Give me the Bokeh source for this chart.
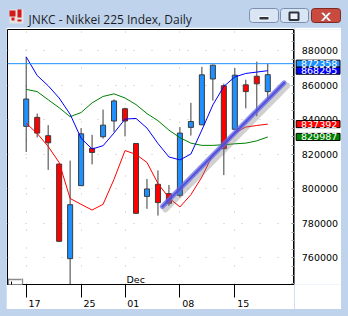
from bokeh.plotting import figure
from bokeh.layouts import column, row
from bokeh.models import (Range1d, FixedTicker, Span, Label, LinearAxis, ColumnDataSource,
                          BoxAnnotation, Grid)
from bokeh.embed import file_html
from bokeh.resources import INLINE
from bokeh.core.properties import value

# ---------------- data ----------------
title_text = "JNKC - Nikkei 225 Index, Daily"
days = ["17", "18", "19", "20", "21", "25", "26", "27", "28", "01", "02", "03",
        "04", "05", "08", "09", "10", "11", "12", "15", "16", "17", "18"]
opens = [836100, 841300, 830700, 814300, 759600, 801800, 823400, 830100, 839200, 846300, 826200, 795600,
         802600, 797200, 796200, 835500, 837000, 863500, 859600, 834400, 860100, 865100, 856200]
highs = [876300, 843500, 836800, 814600, 816300, 835100, 831200, 845800, 851700, 846900, 826400, 805700,
         810600, 802200, 835700, 849700, 870500, 871800, 860800, 869800, 863100, 873500, 872400]
lows = [821300, 829700, 810900, 769400, 743000, 801600, 814100, 829000, 832900, 830300, 785600, 788400,
        784500, 790100, 795100, 830800, 836800, 851000, 807900, 834200, 846500, 842000, 852500]
closes = [851900, 832200, 826600, 769600, 790800, 831800, 821000, 836800, 850800, 839200, 785800, 799900,
          792000, 791600, 832200, 838900, 865900, 871500, 823200, 865700, 856200, 860700, 866000]
ma_blue = [876300, 865500, 859600, 852500, 843100, 829200, 823000, 824900, 832300, 840300, 840700, 835100,
           826200, 818400, 816700, 820100, 834000, 848500, 859200, 864700, 866700, 867500, 868295]
ma_green = [857500, 856200, 851500, 846900, 841700, 844100, 849700, 853400, 854900, 852500, 848700, 843500,
            839400, 833900, 829600, 826400, 825100, 825100, 825500, 826000, 826400, 827700, 829987]
ma_red = [837900, 832000, 824500, 815200, 794400, 791000, 787700, 791000, 805500, 822100, 819900, 815200,
          803100, 794700, 789500, 796600, 806800, 819900, 824500, 832300, 835700, 836600, 837392]

x_tick_idx = [0, 5, 9, 14, 19]
x_tick_labels = ["17", "25", "01", "08", "15"]
month_idx = 9
month_label = "Dec"
y_ticks = [760000, 780000, 800000, 820000, 840000, 860000, 880000]
y_tick_labels = ["760000", "780000", "800000", "820000", "840000", "860000", "880000"]
level_price = 872358
tag_values = [872358, 868295, 837392, 829987]
tag_colors = ["#1E90FF", "#0000FF", "#FF0000", "#008000"]
trend_x = [12.4, 23.5]
trend_y = [789700, 861300]

# ---------------- geometry (page pixels) ----------------
W, H = 348, 316
TB_H = 27                         # title bar height
MX, MH = 6, 282                   # client area starts at page x 6, height 282
FL, FR, FT, FB = 7, 294, 29, 293  # plot frame in page pixels
CR = 341                          # right end of the client area
X0, X1 = -1.703, 24.435
Y0, Y1 = 744637, 892123
FRAME_BLUE = "#BFD4EC"
FONT = "DejaVu Sans"


def px_x(px):
    return X0 + (px - FL) / (FR - FL) * (X1 - X0)


def px_y(py):
    return Y1 - (py - FT) / (FB - FT) * (Y1 - Y0)


dx_per_px = (X1 - X0) / (FR - FL)
dy_per_px = (Y1 - Y0) / (FB - FT)

# ---------------- title bar ----------------
tb = figure(width=W, height=TB_H, x_range=Range1d(0, W), y_range=Range1d(TB_H, 0),
            toolbar_location=None, output_backend="svg", x_axis_location=None,
            y_axis_location=None, min_border=0, background_fill_color=FRAME_BLUE,
            border_fill_color=FRAME_BLUE)
tb.outline_line_color = None
tb.grid.visible = False
tb.quad(left=[9], right=[23], top=[9], bottom=[23], fill_color="#E4E4E4", line_color=None)
tb.quad(left=[9, 17, 11, 17], right=[15, 21, 14, 21], top=[10, 9, 17, 19], bottom=[16, 17, 20, 21],
        fill_color="#D41818", line_color=None)
tb.quad(left=[249, 280], right=[278, 308], top=[8, 8], bottom=[22, 22], fill_color="#D9E5F3",
        line_color="#7A90AE", line_width=1, border_radius=3)
tb.quad(left=[311], right=[340], top=[8], bottom=[22], fill_color="#C94A3F",
        line_color="#7E2A22", line_width=1, border_radius=3)
tb.quad(left=[258.5], right=[268.5], top=[16], bottom=[19.5], fill_color="#2E3440",
        line_color="#F4F6FA", line_width=1)
tb.quad(left=[289], right=[298], top=[12], bottom=[19.5], fill_color="#F0F4FA",
        line_color="#2E3440", line_width=2)
tb.patches(xs=[[320, 323, 331, 328], [328, 331, 323, 320]], ys=[[12, 12, 20.5, 20.5], [12, 12, 20.5, 20.5]],
           fill_color="white", line_color="#6A2018", line_alpha=0.5, line_width=0.6)
tb.text(x=[28], y=[19], text=[title_text], text_font=value("Open Sans"), text_font_size="12px",
        text_color="#1C1C28", text_baseline="alphabetic", text_align="left")

# ---------------- main chart ----------------
p = figure(width=FR - MX, height=MH, x_range=Range1d(X0, X1), y_range=Range1d(Y0, Y1),
           y_axis_location=None, toolbar_location=None, output_backend="svg",
           min_border_left=FL - MX, min_border_right=0, min_border_top=FT - TB_H,
           min_border_bottom=TB_H + MH - FB, background_fill_color="white",
           border_fill_color="white", margin=(0, 0, H - TB_H - MH, MX))
p.outline_line_color = "black"
p.outline_line_width = 1

# x axis: labels centred a little right of each date tick, date ticks drawn as minor ticks
lab_off = 8.35 * dx_per_px
xa = p.xaxis[0]
lab_ticks = [i + lab_off for i in x_tick_idx]
xa.ticker = FixedTicker(ticks=lab_ticks, minor_ticks=x_tick_idx)
xa.major_label_overrides = {t: s for t, s in zip(lab_ticks, x_tick_labels)}
xa.major_tick_in = 0
xa.major_tick_out = 0
xa.major_tick_line_color = None
xa.minor_tick_in = 0
xa.minor_tick_out = 13
xa.minor_tick_line_color = "black"
xa.axis_line_color = "black"
xa.major_label_standoff = 2
xa.major_label_text_font = FONT
xa.major_label_text_font_size = "9.5px"
xa.major_label_text_color = "black"

# grids
p.xgrid.ticker = FixedTicker(ticks=x_tick_idx)
ygrids = list(p.ygrid)
if not ygrids:
    yg = Grid(dimension=1)
    p.add_layout(yg, "center")
    ygrids = [yg]
for g in ygrids:
    g.ticker = FixedTicker(ticks=y_ticks)
for g in list(p.xgrid) + ygrids:
    g.grid_line_color = "#BEBEBE"
    g.grid_line_dash = "1 17"
    g.grid_line_width = 1

# candles
idx = list(range(len(days)))
src = ColumnDataSource(dict(
    x=idx, h=highs, l=lows,
    top=[max(o, c) for o, c in zip(opens, closes)],
    bot=[min(o, c) for o, c in zip(opens, closes)],
    color=["#1E90FF" if c > o else "#FF0000" for o, c in zip(opens, closes)],
))
p.segment(x0="x", y0="l", x1="x", y1="h", source=src, line_color="#3C3C3C", line_width=1)
p.vbar(x="x", width=0.46, top="top", bottom="bot", fill_color="color",
       line_color="#3C3C3C", line_width=1, source=src)

# moving averages
p.line(idx, ma_green, line_color="#008000", line_width=1)
p.line(idx, ma_red, line_color="#FF0000", line_width=1)
p.line(idx, ma_blue, line_color="#0000FF", line_width=1)

# horizontal level
p.add_layout(Span(location=level_price, dimension="width", line_color="#1E90FF", line_width=1))

# trend line with shadow
p.line([x + 3 * dx_per_px for x in trend_x], [y - 3 * dy_per_px for y in trend_y],
       line_color="#777777", line_alpha=0.35, line_width=6, line_cap="round")
p.line(trend_x, trend_y, line_color="#6A6AE6", line_alpha=0.75, line_width=5, line_cap="round")
p.line(trend_x, trend_y, line_color="#4B4BD8", line_alpha=0.9, line_width=2, line_cap="round")

# month label
p.add_layout(Label(x=month_idx + 1.5 * dx_per_px, y=px_y(288.3), text=month_label, text_font=FONT,
                   text_font_size="9.5px", text_color="black", text_align="left",
                   text_baseline="middle"))


def fixed_axis(fig, side, loc, ticks, color, width, t_in, t_out, minor=None):
    ax = LinearAxis(fixed_location=loc, ticker=FixedTicker(ticks=ticks, minor_ticks=minor or []))
    ax.axis_line_color = None
    ax.major_tick_line_color = color
    ax.major_tick_line_width = width
    ax.major_tick_line_cap = "butt"
    ax.major_tick_in = int(t_in)
    ax.major_tick_out = int(t_out)
    ax.minor_tick_line_color = color if minor else None
    ax.minor_tick_in = int(t_in)
    ax.minor_tick_out = int(t_out)
    ax.major_label_text_color = None
    fig.add_layout(ax, side)
    return ax


# price-scale ticks inside the plot along its right edge
fixed_axis(p, "right", X1, y_ticks, "#A0A0A0", 1, 3, 0, minor=list(range(745000, 892001, 5000)))

# bottom-left chart-shift box (the part inside the plot)
fixed_axis(p, "below", Y0, [px_x(15)], "white", 13.4, 5, 13)
fixed_axis(p, "below", Y0, [px_x(8.3), px_x(21.7)], "#8A8A8A", 1.3, 6, 14)
fixed_axis(p, "left", px_x(8.3), [px_y(287.5)], "#8A8A8A", 1.3, 13, 0)
fixed_axis(p, "below", Y0, [px_x(11)], "black", 1, 3, 9)

# ---------------- price scale panel ----------------
rf = figure(width=CR - FR, height=MH, x_range=Range1d(FR, CR), y_range=p.y_range,
            x_axis_location=None, y_axis_location=None, toolbar_location=None,
            output_backend="svg", min_border_left=0, min_border_right=0,
            min_border_top=FT - TB_H, min_border_bottom=TB_H + MH - FB,
            background_fill_color="white", border_fill_color="white",
            margin=(0, W - CR, H - TB_H - MH, 0))
rf.outline_line_color = None
rf.grid.visible = False

ya = LinearAxis(fixed_location=FR + 0.3, ticker=FixedTicker(ticks=y_ticks, minor_ticks=[]))
ya.major_label_overrides = {t: s for t, s in zip(y_ticks, y_tick_labels)}
ya.axis_line_color = "black"
ya.major_tick_line_color = None
ya.minor_tick_line_color = None
ya.major_tick_in = 0
ya.major_tick_out = 0
ya.major_label_standoff = 7
ya.major_label_text_font = FONT
ya.major_label_text_font_size = "9.5px"
ya.major_label_text_color = "black"
rf.add_layout(ya, "right")

hh = 3.65 * dy_per_px
for v, c in zip(tag_values, tag_colors):
    rf.add_layout(BoxAnnotation(left=295.7, right=339.5, top=v + hh, bottom=v - hh,
                                fill_color=c, fill_alpha=1, line_color="black", line_alpha=1,
                                line_width=1, level="overlay"))
for v in tag_values:
    rf.add_layout(Label(x=300.5, y=v, text=str(v), text_font=FONT, text_font_size="9.5px",
                        text_color="white", text_align="left", text_baseline="middle",
                        level="overlay"))

layout = column(tb, row(p, rf, spacing=0), spacing=0, styles={"background-color": FRAME_BLUE})
open("out.html", "w").write(file_html(layout, INLINE))
